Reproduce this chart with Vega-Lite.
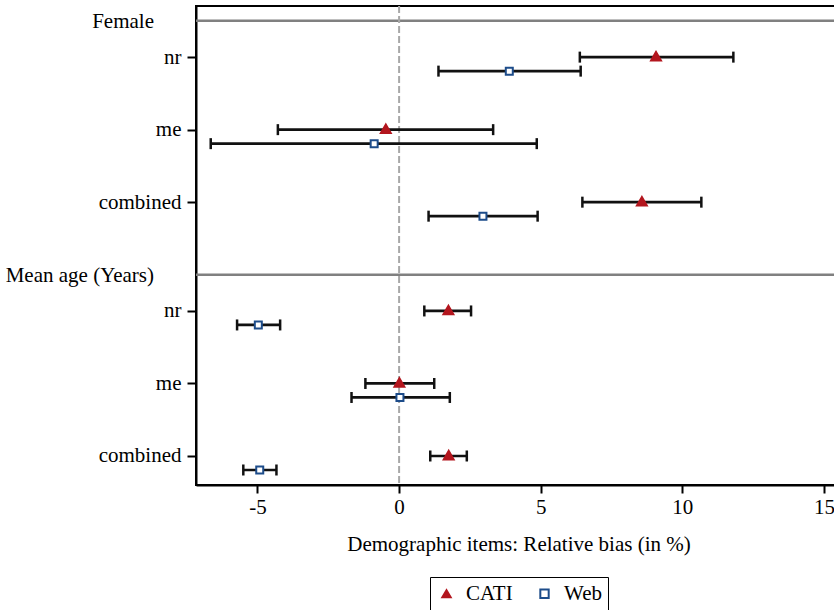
{
  "$schema": "https://vega.github.io/schema/vega-lite/v6.json",
  "width": 645,
  "height": 479,
  "background": "white",
  "config": {
    "font": "Liberation Serif",
    "view": {"stroke": "black", "strokeWidth": 2},
    "axis": {
      "grid": false,
      "domainColor": "black",
      "domainWidth": 2,
      "tickColor": "black",
      "tickWidth": 2,
      "labelColor": "black",
      "labelFontSize": 21,
      "labelFont": "Liberation Serif",
      "titleFont": "Liberation Serif",
      "titleFontSize": 21,
      "titleFontWeight": "normal",
      "titleColor": "black"
    },
    "legend": {
      "orient": "bottom",
      "direction": "horizontal",
      "strokeColor": "black",
      "padding": 6,
      "offset": 23,
      "labelFont": "Liberation Serif",
      "labelFontSize": 21,
      "labelColor": "black",
      "symbolSize": 70,
      "symbolStrokeWidth": 2,
      "columnPadding": 21,
      "labelOffset": 9,
      "layout": {"bottom": {"anchor": "middle"}}
    }
  },
  "datasets": {
    "items": [
      {"group": "Female", "item": "nr", "row": 1, "mode": "CATI", "est": 9.07, "lo": 6.38, "hi": 11.8},
      {"group": "Female", "item": "nr", "row": 1, "mode": "Web", "est": 3.89, "lo": 1.39, "hi": 6.41},
      {"group": "Female", "item": "me", "row": 3, "mode": "CATI", "est": -0.47, "lo": -4.28, "hi": 3.32},
      {"group": "Female", "item": "me", "row": 3, "mode": "Web", "est": -0.88, "lo": -6.65, "hi": 4.86},
      {"group": "Female", "item": "combined", "row": 5, "mode": "CATI", "est": 8.57, "lo": 6.47, "hi": 10.67},
      {"group": "Female", "item": "combined", "row": 5, "mode": "Web", "est": 2.96, "lo": 1.04, "hi": 4.89},
      {"group": "Mean age (Years)", "item": "nr", "row": 8, "mode": "CATI", "est": 1.74, "lo": 0.89, "hi": 2.54},
      {"group": "Mean age (Years)", "item": "nr", "row": 8, "mode": "Web", "est": -4.97, "lo": -5.72, "hi": -4.2},
      {"group": "Mean age (Years)", "item": "me", "row": 10, "mode": "CATI", "est": 0.01, "lo": -1.19, "hi": 1.24},
      {"group": "Mean age (Years)", "item": "me", "row": 10, "mode": "Web", "est": 0.03, "lo": -1.68, "hi": 1.79},
      {"group": "Mean age (Years)", "item": "combined", "row": 12, "mode": "CATI", "est": 1.75, "lo": 1.1, "hi": 2.39},
      {"group": "Mean age (Years)", "item": "combined", "row": 12, "mode": "Web", "est": -4.92, "lo": -5.5, "hi": -4.33}
    ],
    "headers": [
      {"label": "Female", "row": 0},
      {"label": "Mean age (Years)", "row": 7}
    ],
    "zero": [{"ref": 0}]
  },
  "layer": [
    {
      "data": {"name": "headers"},
      "mark": {"type": "rule", "color": "#808080", "strokeWidth": 2.5},
      "encoding": {
        "y": {
          "field": "row",
          "type": "quantitative",
          "scale": {"domain": [-0.41, 12.8], "reverse": true, "nice": false, "zero": false},
          "axis": {
            "title": null,
            "values": [1, 3, 5, 8, 10, 12],
            "labelExpr": "datum.value == 1 || datum.value == 8 ? 'nr' : (datum.value == 3 || datum.value == 10 ? 'me' : 'combined')",
            "tickSize": 9,
            "labelPadding": 6
          }
        }
      }
    },
    {
      "data": {"name": "headers"},
      "mark": {"type": "text", "align": "right", "baseline": "middle", "dx": -42, "dy": 1, "fontSize": 21, "color": "black", "font": "Liberation Serif"},
      "encoding": {
        "x": {
          "datum": -7.17,
          "type": "quantitative",
          "scale": {"domain": [-7.17, 15.6], "nice": false, "zero": false},
          "axis": {"title": "Demographic items: Relative bias (in %)", "values": [-5, 0, 5, 10, 15], "labelExpr": "'' + datum.value", "tickSize": 8, "labelPadding": 3, "titlePadding": 16}
        },
        "y": {
          "field": "row",
          "type": "quantitative",
          "axis": {
            "title": null,
            "values": [1, 3, 5, 8, 10, 12],
            "labelExpr": "datum.value == 1 || datum.value == 8 ? 'nr' : (datum.value == 3 || datum.value == 10 ? 'me' : 'combined')",
            "tickSize": 9,
            "labelPadding": 6
          }
        },
        "text": {"field": "label"}
      }
    },
    {
      "data": {"name": "zero"},
      "mark": {"type": "rule", "color": "#a8a8a8", "strokeDash": [7, 3], "strokeWidth": 2},
      "encoding": {
        "x": {
          "field": "ref",
          "type": "quantitative",
          "axis": {"title": "Demographic items: Relative bias (in %)", "values": [-5, 0, 5, 10, 15], "labelExpr": "'' + datum.value", "tickSize": 8, "labelPadding": 3, "titlePadding": 16}
        }
      }
    },
    {
      "data": {"name": "items"},
      "transform": [{"filter": "datum.mode === 'CATI'"}],
      "mark": {"type": "rule", "color": "#111111", "strokeWidth": 2.7},
      "encoding": {
        "x": {
          "field": "lo",
          "type": "quantitative",
          "axis": {"title": "Demographic items: Relative bias (in %)", "values": [-5, 0, 5, 10, 15], "labelExpr": "'' + datum.value", "tickSize": 8, "labelPadding": 3, "titlePadding": 16}
        },
        "x2": {"field": "hi"},
        "y": {
          "field": "row",
          "type": "quantitative",
          "axis": {
            "title": null,
            "values": [1, 3, 5, 8, 10, 12],
            "labelExpr": "datum.value == 1 || datum.value == 8 ? 'nr' : (datum.value == 3 || datum.value == 10 ? 'me' : 'combined')",
            "tickSize": 9,
            "labelPadding": 6
          }
        }
      }
    },
    {
      "data": {"name": "items"},
      "transform": [{"filter": "datum.mode === 'Web'"}],
      "mark": {"type": "rule", "color": "#111111", "strokeWidth": 2.7, "yOffset": 14},
      "encoding": {
        "x": {
          "field": "lo",
          "type": "quantitative",
          "axis": {"title": "Demographic items: Relative bias (in %)", "values": [-5, 0, 5, 10, 15], "labelExpr": "'' + datum.value", "tickSize": 8, "labelPadding": 3, "titlePadding": 16}
        },
        "x2": {"field": "hi"},
        "y": {
          "field": "row",
          "type": "quantitative",
          "axis": {
            "title": null,
            "values": [1, 3, 5, 8, 10, 12],
            "labelExpr": "datum.value == 1 || datum.value == 8 ? 'nr' : (datum.value == 3 || datum.value == 10 ? 'me' : 'combined')",
            "tickSize": 9,
            "labelPadding": 6
          }
        }
      }
    },
    {
      "data": {"name": "items"},
      "transform": [{"filter": "datum.mode === 'CATI'"}, {"fold": ["lo", "hi"], "as": ["end", "val"]}],
      "mark": {"type": "point", "shape": "M0,-1L0,1", "size": 121, "filled": false, "stroke": "#111111", "strokeWidth": 2.5, "opacity": 1},
      "encoding": {
        "x": {
          "field": "val",
          "type": "quantitative",
          "axis": {"title": "Demographic items: Relative bias (in %)", "values": [-5, 0, 5, 10, 15], "labelExpr": "'' + datum.value", "tickSize": 8, "labelPadding": 3, "titlePadding": 16}
        },
        "y": {
          "field": "row",
          "type": "quantitative",
          "axis": {
            "title": null,
            "values": [1, 3, 5, 8, 10, 12],
            "labelExpr": "datum.value == 1 || datum.value == 8 ? 'nr' : (datum.value == 3 || datum.value == 10 ? 'me' : 'combined')",
            "tickSize": 9,
            "labelPadding": 6
          }
        }
      }
    },
    {
      "data": {"name": "items"},
      "transform": [{"filter": "datum.mode === 'Web'"}, {"fold": ["lo", "hi"], "as": ["end", "val"]}],
      "mark": {"type": "point", "shape": "M0,-1L0,1", "size": 121, "filled": false, "stroke": "#111111", "strokeWidth": 2.5, "opacity": 1, "yOffset": 14},
      "encoding": {
        "x": {
          "field": "val",
          "type": "quantitative",
          "axis": {"title": "Demographic items: Relative bias (in %)", "values": [-5, 0, 5, 10, 15], "labelExpr": "'' + datum.value", "tickSize": 8, "labelPadding": 3, "titlePadding": 16}
        },
        "y": {
          "field": "row",
          "type": "quantitative",
          "axis": {
            "title": null,
            "values": [1, 3, 5, 8, 10, 12],
            "labelExpr": "datum.value == 1 || datum.value == 8 ? 'nr' : (datum.value == 3 || datum.value == 10 ? 'me' : 'combined')",
            "tickSize": 9,
            "labelPadding": 6
          }
        }
      }
    },
    {
      "data": {"name": "items"},
      "transform": [{"filter": "datum.mode === 'CATI'"}],
      "mark": {"type": "point", "size": 115, "strokeWidth": 1.5, "opacity": 1, "yOffset": -1},
      "encoding": {
        "x": {
          "field": "est",
          "type": "quantitative",
          "axis": {"title": "Demographic items: Relative bias (in %)", "values": [-5, 0, 5, 10, 15], "labelExpr": "'' + datum.value", "tickSize": 8, "labelPadding": 3, "titlePadding": 16}
        },
        "y": {
          "field": "row",
          "type": "quantitative",
          "axis": {
            "title": null,
            "values": [1, 3, 5, 8, 10, 12],
            "labelExpr": "datum.value == 1 || datum.value == 8 ? 'nr' : (datum.value == 3 || datum.value == 10 ? 'me' : 'combined')",
            "tickSize": 9,
            "labelPadding": 6
          }
        },
        "fill": {"field": "mode", "type": "nominal", "scale": {"domain": ["CATI", "Web"], "range": ["#b3161e", "#ffffff"]}, "legend": {"title": null, "labelFont": "Liberation Serif", "labelFontSize": 21}},
        "stroke": {"field": "mode", "type": "nominal", "scale": {"domain": ["CATI", "Web"], "range": ["#b3161e", "#1d4c8a"]}, "legend": {"title": null, "labelFont": "Liberation Serif", "labelFontSize": 21}},
        "shape": {"field": "mode", "type": "nominal", "scale": {"domain": ["CATI", "Web"], "range": ["triangle-up", "square"]}, "legend": {"title": null, "labelFont": "Liberation Serif", "labelFontSize": 21}}
      }
    },
    {
      "data": {"name": "items"},
      "transform": [{"filter": "datum.mode === 'Web'"}],
      "mark": {"type": "point", "size": 49, "strokeWidth": 2, "opacity": 1, "yOffset": 14},
      "encoding": {
        "x": {
          "field": "est",
          "type": "quantitative",
          "axis": {"title": "Demographic items: Relative bias (in %)", "values": [-5, 0, 5, 10, 15], "labelExpr": "'' + datum.value", "tickSize": 8, "labelPadding": 3, "titlePadding": 16}
        },
        "y": {
          "field": "row",
          "type": "quantitative",
          "axis": {
            "title": null,
            "values": [1, 3, 5, 8, 10, 12],
            "labelExpr": "datum.value == 1 || datum.value == 8 ? 'nr' : (datum.value == 3 || datum.value == 10 ? 'me' : 'combined')",
            "tickSize": 9,
            "labelPadding": 6
          }
        },
        "fill": {"field": "mode", "type": "nominal", "legend": {"title": null, "labelFont": "Liberation Serif", "labelFontSize": 21}},
        "stroke": {"field": "mode", "type": "nominal", "legend": {"title": null, "labelFont": "Liberation Serif", "labelFontSize": 21}},
        "shape": {"field": "mode", "type": "nominal", "legend": {"title": null, "labelFont": "Liberation Serif", "labelFontSize": 21}}
      }
    }
  ]
}
